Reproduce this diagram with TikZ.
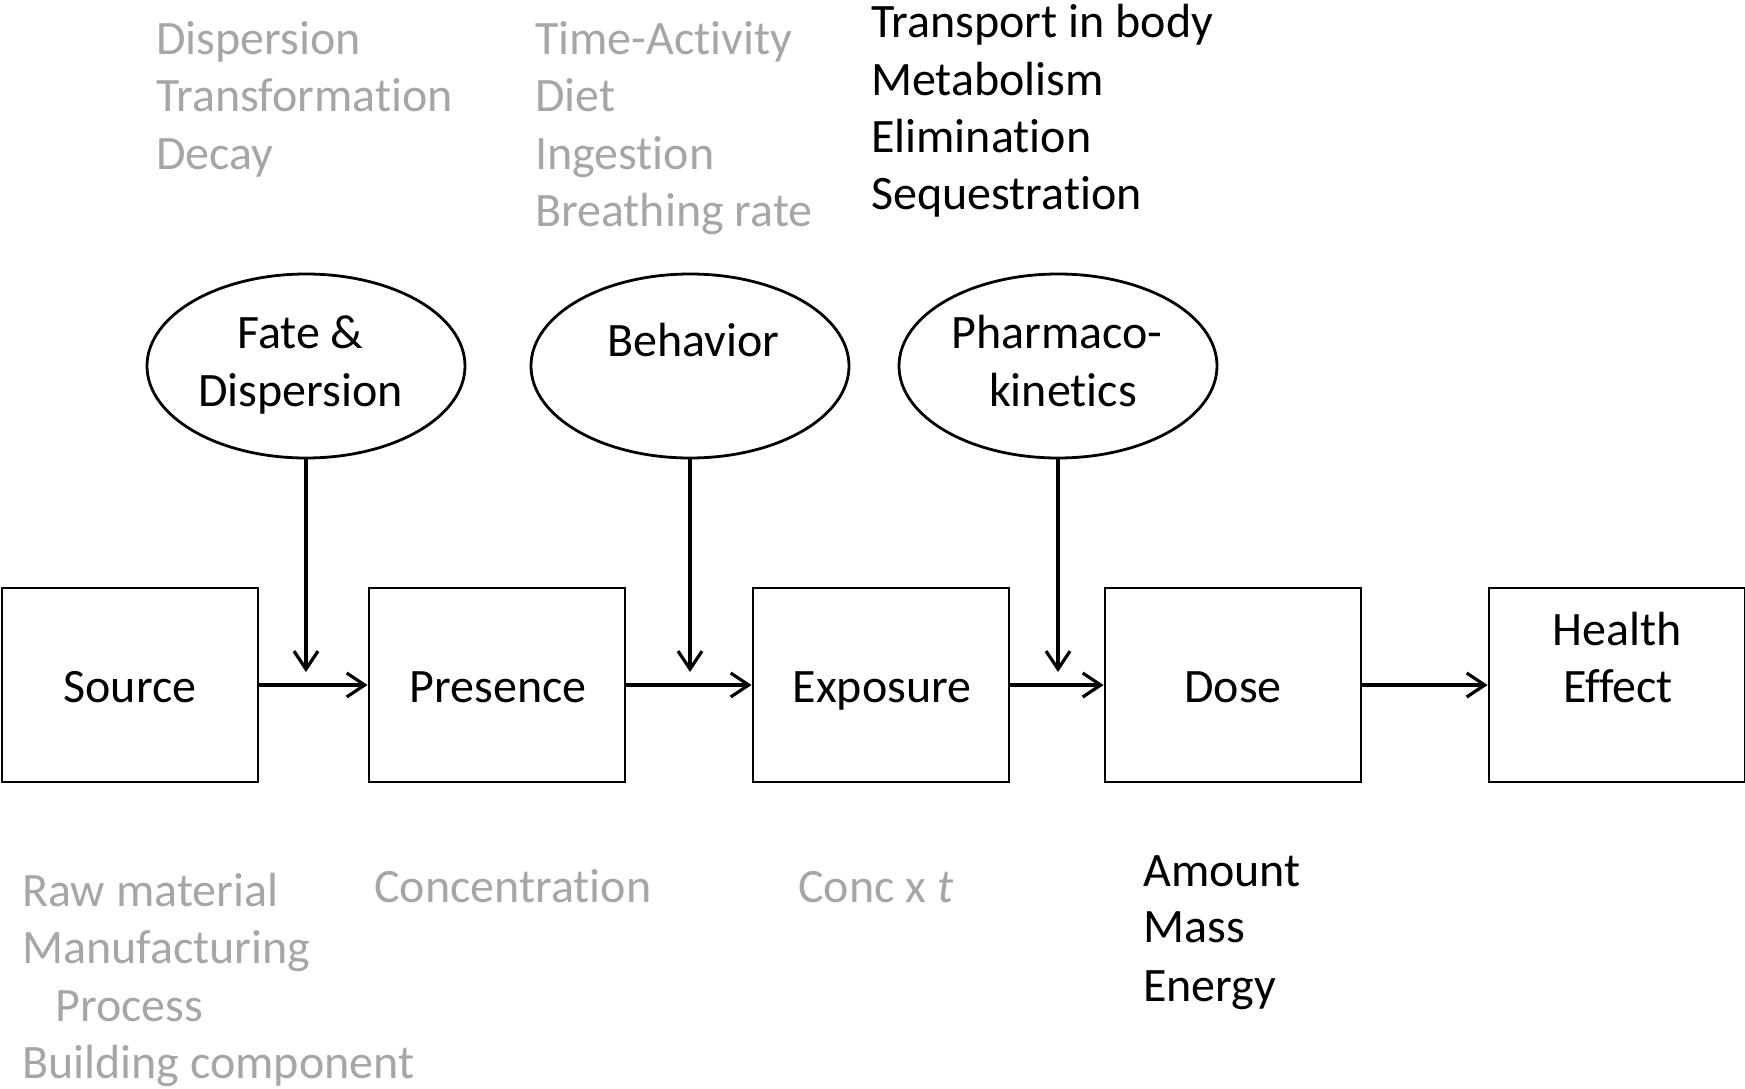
\documentclass[tikz,border=0pt]{standalone}
\usepackage{fontspec}
\setmainfont[Ligatures={NoCommon,NoContextual,NoRare}]{Carlito}
\usetikzlibrary{arrows.meta,shapes.geometric}
\definecolor{softgrey}{RGB}{166,166,166}
\begin{document}
\begin{tikzpicture}[x=1pt,y=-1pt,
  every node/.style={font=\fontsize{48}{57.3}\selectfont},
  box/.style={draw,line width=2.8pt,minimum width=256pt,minimum height=194pt,inner sep=0pt},
  oval/.style={draw,ellipse,line width=2.8pt,minimum width=318pt,minimum height=184pt,inner sep=0pt},
  lbl/.style={inner sep=0pt,anchor=base},
  note/.style={inner sep=0pt,anchor=base west,text=softgrey},
  dark/.style={inner sep=0pt,anchor=base west,text=black},
  flow/.style={line width=3.2pt,-{Straight Barb[length=18pt,width=24pt]}}
]
\useasboundingbox (0,0) rectangle (1745,1089);

% main chain of boxes
\node[box] (src) at (130,685) {};
\node[box] (pre) at (497,685) {};
\node[box] (exq) at (881,685) {};
\node[box] (dos) at (1233,685) {};
\node[box] (hef) at (1617,685) {};

\node[lbl] (srcT) at (130,702) {Source};
\node[lbl] (preT) at (498,702) {Presence};
\node[lbl] (exqT) at (882,702) {Exposure};
\node[lbl] (dosT) at (1233,702) {Dose};
\node[lbl] (hefT1) at (1617,645) {Health};
\node[lbl] (hefT2) at (1618,702) {Effect};

% modifying processes
\node[oval] (fate) at (306,366) {};
\node[oval] (beh) at (690,366) {};
\node[oval] (pk) at (1058,366) {};

\node[lbl] (fateT1) at (300.5,348) {Fate \&};
\node[lbl] (fateT2) at (300.5,406) {Dispersion};
\node[lbl] (behT) at (693.5,356) {Behavior};
\node[lbl] (pkT1) at (1057,348) {Pharmaco-};
\node[lbl] (pkT2) at (1063,406) {kinetics};

% arrow end points on the chain
\coordinate (fateEnd) at (306,672);
\coordinate (behEnd) at (690,672);
\coordinate (pkEnd) at (1058,672);

\draw[flow] (src.east) -- (pre.west);
\draw[flow] (pre.east) -- (exq.west);
\draw[flow] (exq.east) -- (dos.west);
\draw[flow] (dos.east) -- (hef.west);
\draw[flow] (fate.south) -- (fateEnd);
\draw[flow] (beh.south) -- (behEnd);
\draw[flow] (pk.south) -- (pkEnd);

% factor lists above
\node[note] (f1) at (156,54.5) {Dispersion};
\node[note] (f2) at (156,111.8) {Transformation};
\node[note] (f3) at (156,169.1) {Decay};

\node[note] (b1) at (535,54.5) {Time-Activity};
\node[note] (b2) at (535,111.8) {Diet};
\node[note] (b3) at (535,169.1) {Ingestion};
\node[note] (b4) at (535,226.4) {Breathing rate};

\node[dark] (p1) at (871,37.8) {Transport in body};
\node[dark] (p2) at (871,95.1) {Metabolism};
\node[dark] (p3) at (871,152.4) {Elimination};
\node[dark] (p4) at (871,209.7) {Sequestration};

% measures below
\node[note] (s1) at (22,906) {Raw material};
\node[note] (s2) at (22,963.5) {Manufacturing};
\node[note] (s3) at (55,1021) {Process};
\node[note] (s4) at (22,1078) {Building component};

\node[note] (c1) at (374,902.6) {Concentration};
\node[note] (e1) at (798,902.6) {Conc x \textit{t}};

\node[dark] (d1) at (1143,886) {Amount};
\node[dark] (d2) at (1143,942.6) {Mass};
\node[dark] (d3) at (1143,1001.6) {Energy};
\end{tikzpicture}
\end{document}
